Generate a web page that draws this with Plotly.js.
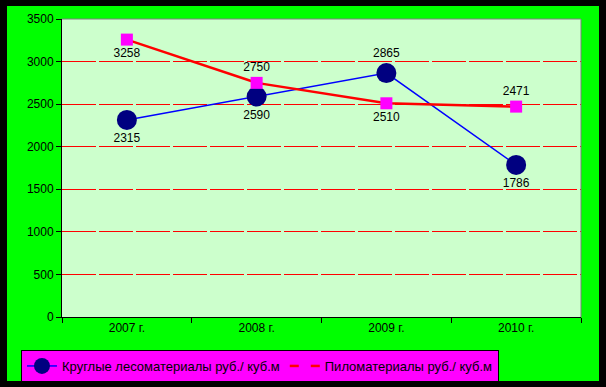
<!DOCTYPE html>
<html><head><meta charset="utf-8">
<script src="https://cdn.plot.ly/plotly-3.0.1.min.js"></script>
<style>
html,body{margin:0;padding:0;background:#000;width:606px;height:387px;overflow:hidden;}
#chart{position:absolute;left:7px;top:6px;width:592px;height:375px;}
</style></head>
<body><div id="chart"></div>
<script>
const categories = ["2007 г.", "2008 г.", "2009 г.", "2010 г."];
const roundTimber = [2315, 2590, 2865, 1786];
const sawnTimber = [3258, 2750, 2510, 2471];
const roundName = "Круглые лесоматериалы руб./ куб.м";
const sawnName = "Пиломатериалы руб./ куб.м";
const roundPos = ["bottom center", "bottom center", "top center", "bottom center"];
const sawnPos = ["bottom center", "top center", "bottom center", "top center"];

const font = {family: "Liberation Sans, Arial, sans-serif", size: 12, color: "#000"};
const legendFont = {family: "Liberation Sans, Arial, sans-serif", size: 13, color: "#000"};

const traces = [
  {x: categories, y: roundTimber, name: roundName, type: "scatter", mode: "lines+markers+text",
   line: {color: "#0000FF", width: 1.5},
   marker: {symbol: "circle", size: 20, color: "#000080"},
   text: roundTimber.map(String), textposition: roundPos, textfont: font, cliponaxis: false},
  {x: categories, y: sawnTimber, name: sawnName, type: "scatter", mode: "lines+markers+text",
   line: {color: "#FF0000", width: 2.5},
   marker: {symbol: "square", size: 12, color: "#FF00FF"},
   text: sawnTimber.map(String), textposition: sawnPos, textfont: font, cliponaxis: false}
];

const layout = {
  width: 592, height: 375,
  margin: {l: 55, r: 18, t: 13, b: 64},
  paper_bgcolor: "#00FF00",
  plot_bgcolor: "#CCFFCC",
  font: font,
  showlegend: true,
  legend: {orientation: "h", xref: "container", yref: "container", x: 0.0236, y: 0.0827,
           xanchor: "left", yanchor: "top",
           bgcolor: "#FF00FF", bordercolor: "#000", borderwidth: 1,
           font: legendFont, tracegroupgap: 0},
  xaxis: {type: "category", range: [-0.5, 3.5], showgrid: false, showline: true, linecolor: "#000", linewidth: 1,
          ticks: "outside", tickson: "boundaries", ticklen: 5, tickcolor: "#000",
          tickfont: font, zeroline: false, automargin: false},
  yaxis: {range: [0, 3500], dtick: 500, tick0: 0, showgrid: true, gridcolor: "#FF0000", gridwidth: 1,
          griddash: "34px,3px",
          showline: true, linecolor: "#000", linewidth: 1, ticks: "outside", ticklen: 5,
          tickcolor: "#000", tickfont: font, zeroline: false, automargin: false},
  shapes: [
    {type: "line", xref: "paper", yref: "paper", x0: 0, x1: 1, y0: 1, y1: 1, line: {color: "#808080", width: 1}},
    {type: "line", xref: "paper", yref: "paper", x0: 1, x1: 1, y0: 0, y1: 1, line: {color: "#808080", width: 1}}
  ]
};

Plotly.newPlot("chart", traces, layout, {displayModeBar: false, staticPlot: true});
</script></body></html>
